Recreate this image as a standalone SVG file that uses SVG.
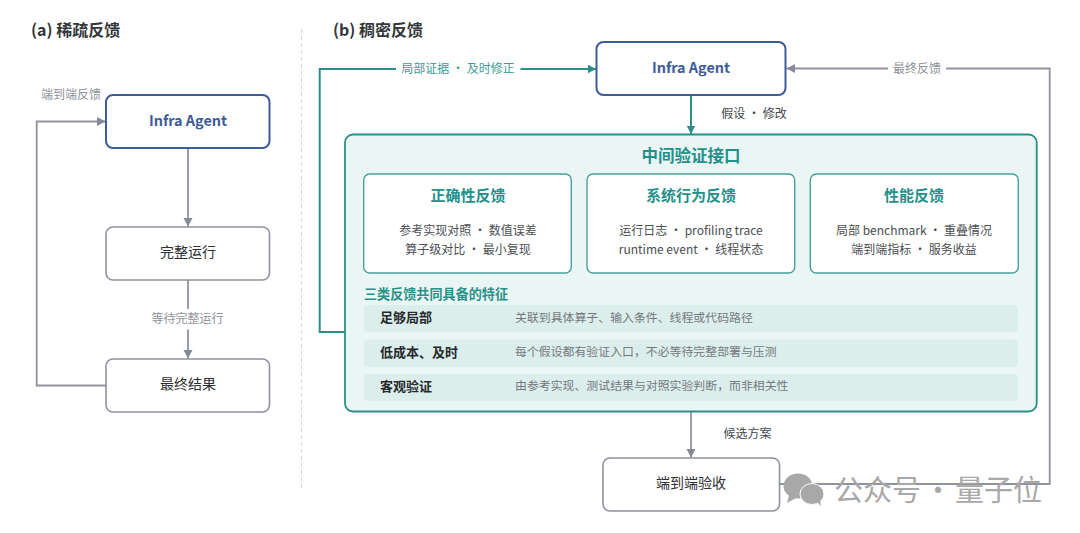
<svg xmlns="http://www.w3.org/2000/svg" width="1080" height="533" viewBox="0 0 1080 533">
<style>
text{font-family:"Noto Sans CJK SC","Noto Sans",sans-serif;text-anchor:middle}
.box{fill:#fff;stroke:#8f939e;stroke-width:1.6}
.agent{fill:#fff;stroke:#3d5c99;stroke-width:2}
.agentT{font-size:14.4px;font-weight:700;fill:#3d5c99}
.node{font-size:14px;fill:#2e2e33}
.title{font-size:16px;font-weight:700;fill:#33363b;text-anchor:start}
.gl{font-size:12px;fill:#8e9299}
.tl{font-size:12px;fill:#3d9c96}
.dl{font-size:12px;fill:#44474d}
.card{fill:#fff;stroke:#4b9f9a;stroke-width:1.4}
.cardT{font-size:15px;font-weight:700;fill:#24908a}
.body{font-size:12px;fill:#4a4d52}
.row{fill:#dceeec}
.rowT{font-size:13px;font-weight:700;fill:#26282c;text-anchor:start}
.rowD{font-size:11.9px;fill:#74787d;text-anchor:start}
.g{fill:none;stroke:#8f939e;stroke-width:1.8}
.t{fill:none;stroke:#2a8f89;stroke-width:2}
.wm{font-size:29px;fill:#a8a8a8;text-anchor:start;word-spacing:-4px}
</style>
<defs>
<marker id="ag" markerUnits="userSpaceOnUse" markerWidth="9" markerHeight="10" refX="8.5" refY="4.5" orient="auto"><path d="M0 0L8.5 4.5L0 9Z" fill="#858a96"/></marker>
<marker id="at" markerUnits="userSpaceOnUse" markerWidth="9" markerHeight="10" refX="8.5" refY="4.5" orient="auto"><path d="M0 0L8.5 4.5L0 9Z" fill="#2a8f89"/></marker>
</defs>
<rect width="1080" height="533" fill="#fff"/>
<text class="title" x="31" y="35.5">(a) 稀疏反馈</text>
<text class="title" x="333" y="35.5">(b) 稠密反馈</text>
<line x1="301.5" y1="29" x2="301.5" y2="491" stroke="#d4d6d9" stroke-width="1" stroke-dasharray="4 3"/>

<g id="connectors">
<path class="g" d="M188 148V226.5" marker-end="url(#ag)"/>
<path class="g" d="M188 280V309M188 329.5V358.5" marker-end="url(#ag)"/>
<path class="g" d="M106 385.5H36.7V121.5H105.5" marker-end="url(#ag)"/>
<path class="t" d="M345 332H319.7V69H396M520.5 69H596" marker-end="url(#at)"/>
<path class="t" d="M691 95V134" marker-end="url(#at)"/>
<path class="g" d="M691 412V457.5" marker-end="url(#ag)"/>
<path class="g" d="M779.5 484H1049.7V68.5H946M888 68.5H786.5" marker-end="url(#ag)"/>
</g>
<text class="gl" x="71" y="98.5">端到端反馈</text>
<text class="gl" x="187.5" y="322.5">等待完整运行</text>
<text class="tl" x="458" y="72.5">局部证据 · 及时修正</text>
<text class="dl" x="754" y="118">假设 · 修改</text>
<text class="gl" x="917" y="72.5">最终反馈</text>
<text class="dl" x="747.5" y="438">候选方案</text>

<g id="a-agent"><rect class="agent" x="106" y="95" width="163.5" height="53" rx="7"/><text class="agentT" x="188" y="126">Infra Agent</text></g>
<g id="a-run"><rect class="box" x="106" y="227" width="163.5" height="53" rx="7"/><text class="node" x="188" y="257">完整运行</text></g>
<g id="a-result"><rect class="box" x="106" y="359" width="163.5" height="53" rx="7"/><text class="node" x="188" y="389">最终结果</text></g>

<g id="b-agent"><rect class="agent" x="596.5" y="42" width="189" height="53" rx="7"/><text class="agentT" x="691" y="73">Infra Agent</text></g>

<g id="b-interface">
<rect x="345" y="134.5" width="691.7" height="277" rx="8" fill="#e9f6f4" stroke="#2a8f89" stroke-width="1.8"/>
<text x="691" y="162" font-size="16.5" font-weight="700" fill="#24908a">中间验证接口</text>
</g>
<g id="card-correct"><rect class="card" x="363.7" y="174" width="207.6" height="99" rx="6"/>
<text class="cardT" x="468" y="201">正确性反馈</text>
<text class="body" x="468" y="235">参考实现对照 · 数值误差</text><text class="body" x="468" y="254">算子级对比 · 最小复现</text></g>
<g id="card-behavior"><rect class="card" x="587" y="174" width="207.7" height="99" rx="6"/>
<text class="cardT" x="691" y="201">系统行为反馈</text>
<text class="body" x="691" y="235">运行日志 · profiling trace</text><text class="body" x="691" y="254">runtime event · 线程状态</text></g>
<g id="card-perf"><rect class="card" x="810.3" y="174" width="208" height="99" rx="6"/>
<text class="cardT" x="914" y="201">性能反馈</text>
<text class="body" x="914" y="235">局部 benchmark · 重叠情况</text><text class="body" x="914" y="254">端到端指标 · 服务收益</text></g>

<text x="364" y="298.5" font-size="13.1" font-weight="700" fill="#2a9089" style="text-anchor:start">三类反馈共同具备的特征</text>
<g id="row-1"><rect class="row" x="364" y="305" width="654" height="27" rx="4"/><text class="rowT" x="380" y="322">足够局部</text><text class="rowD" x="515" y="322">关联到具体算子、输入条件、线程或代码路径</text></g>
<g id="row-2"><rect class="row" x="364" y="339.5" width="654" height="27.5" rx="4"/><text class="rowT" x="380" y="357">低成本、及时</text><text class="rowD" x="515" y="356">每个假设都有验证入口，不必等待完整部署与压测</text></g>
<g id="row-3"><rect class="row" x="364" y="374" width="654" height="27" rx="4"/><text class="rowT" x="380" y="391">客观验证</text><text class="rowD" x="515" y="390">由参考实现、测试结果与对照实验判断，而非相关性</text></g>

<g id="b-accept"><rect class="box" x="603" y="458" width="176.5" height="53" rx="7"/><text class="node" x="691" y="488">端到端验收</text></g>

<g id="watermark">
<ellipse cx="798" cy="486" rx="14.5" ry="12.5" fill="#a8a8a8"/><path d="M789 495L787 503L796 498Z" fill="#a8a8a8"/>
<ellipse cx="812" cy="494" rx="12" ry="10.5" fill="#a8a8a8" stroke="#fff" stroke-width="1"/><path d="M817 502L821 506L820 499Z" fill="#a8a8a8"/>
<text class="wm" x="834" y="501">公众号 · 量子位</text>
</g>
</svg>
